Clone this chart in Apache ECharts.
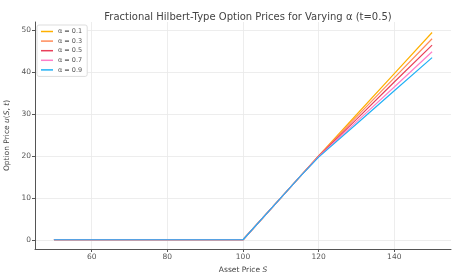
<!DOCTYPE html>
<html><head><meta charset="utf-8">
<script src="https://cdn.jsdelivr.net/npm/echarts@6/dist/echarts.min.js"></script>
<style>html,body{margin:0;padding:0;background:#fff}#c{width:463px;height:272px}</style>
</head><body><div id="c"></div>
<script>
const assetPrices = [50, 100, 110, 115, 120, 130, 140, 150];
const alphaLabels = ['α = 0.1', 'α = 0.3', 'α = 0.5', 'α = 0.7', 'α = 0.9'];
const price_a01 = [0, 0, 10, 15, 20.0, 29.8, 39.6, 49.4];
const price_a03 = [0, 0, 10, 15, 20.0, 29.3, 38.6, 47.9];
const price_a05 = [0, 0, 10, 15, 19.9, 28.7, 37.6, 46.4];
const price_a07 = [0, 0, 10, 15, 19.8, 28.1, 36.4, 44.8];
const price_a09 = [0, 0, 10, 15, 19.7, 27.6, 35.5, 43.4];
const xTicks = [60, 80, 100, 120, 140];
const yTicks = [0, 10, 20, 30, 40, 50];
const colors = ['#FFB000', '#FF8C5A', '#E8405A', '#FF7FC8', '#22B0F5'];

const allSeries = [price_a01, price_a03, price_a05, price_a07, price_a09];
const chart = echarts.init(document.getElementById('c'));
chart.setOption({
  animation: false,
  backgroundColor: '#fff',
  title: {
    text: 'Fractional Hilbert-Type Option Prices for Varying α (t=0.5)',
    left: 243, top: 7, textAlign: 'center',
    textStyle: {fontFamily: 'DejaVu Sans', fontSize: 10, fontWeight: 'normal', color: '#444'}
  },
  legend: {
    orient: 'vertical', left: 37, top: 25,
    data: alphaLabels,
    icon: 'rect', itemWidth: 12, itemHeight: 1.5, itemGap: 2.6,
    padding: [3, 5, 3, 4],
    borderColor: '#ddd', borderWidth: 1, borderRadius: 2, backgroundColor: '#fff',
    textStyle: {fontFamily: 'DejaVu Sans', fontSize: 6.5, color: '#555', lineHeight: 7}
  },
  grid: {left: 35, right: 12, top: 22, bottom: 23, containLabel: false, outerBoundsMode: 'none'},
  xAxis: {
    type: 'value', min: 45, max: 155,
    name: 'Asset Price {i|S}', nameLocation: 'middle', nameGap: 13,
    nameTextStyle: {fontFamily: 'DejaVu Sans', fontSize: 7.5, color: '#444',
      rich: {i: {fontStyle: 'italic', fontFamily: 'DejaVu Sans', fontSize: 7.5, color: '#444'}}},
    axisLine: {show: true, onZero: false, lineStyle: {color: '#555', width: 1}},
    axisTick: {show: true, length: 3, customValues: xTicks, lineStyle: {color: '#555'}},
    axisLabel: {customValues: xTicks, fontFamily: 'DejaVu Sans', fontSize: 7.5, color: '#555', margin: 4},
    splitLine: {show: true, lineStyle: {color: '#e8e8e8', width: 0.8}}
  },
  yAxis: {
    type: 'value', min: -2.2, max: 51.9,
    name: 'Option Price {i|u}({i|S}, {i|t})', nameLocation: 'middle', nameGap: 20,
    nameTextStyle: {fontFamily: 'DejaVu Sans', fontSize: 7.5, color: '#444',
      rich: {i: {fontStyle: 'italic', fontFamily: 'DejaVu Sans', fontSize: 7.5, color: '#444'}}},
    axisLine: {show: true, onZero: false, lineStyle: {color: '#555', width: 1}},
    axisTick: {show: true, length: 3, customValues: yTicks, lineStyle: {color: '#555'}},
    axisLabel: {customValues: yTicks, fontFamily: 'DejaVu Sans', fontSize: 7.5, color: '#555', margin: 4},
    splitLine: {show: true, lineStyle: {color: '#e8e8e8', width: 0.8}}
  },
  series: allSeries.map((vals, i) => ({
    name: alphaLabels[i], type: 'line', showSymbol: false, symbol: 'none',
    color: colors[i],
    lineStyle: {width: 1.2, color: colors[i]},
    data: assetPrices.map((s, j) => [s, vals[j]])
  }))
});
</script></body></html>
